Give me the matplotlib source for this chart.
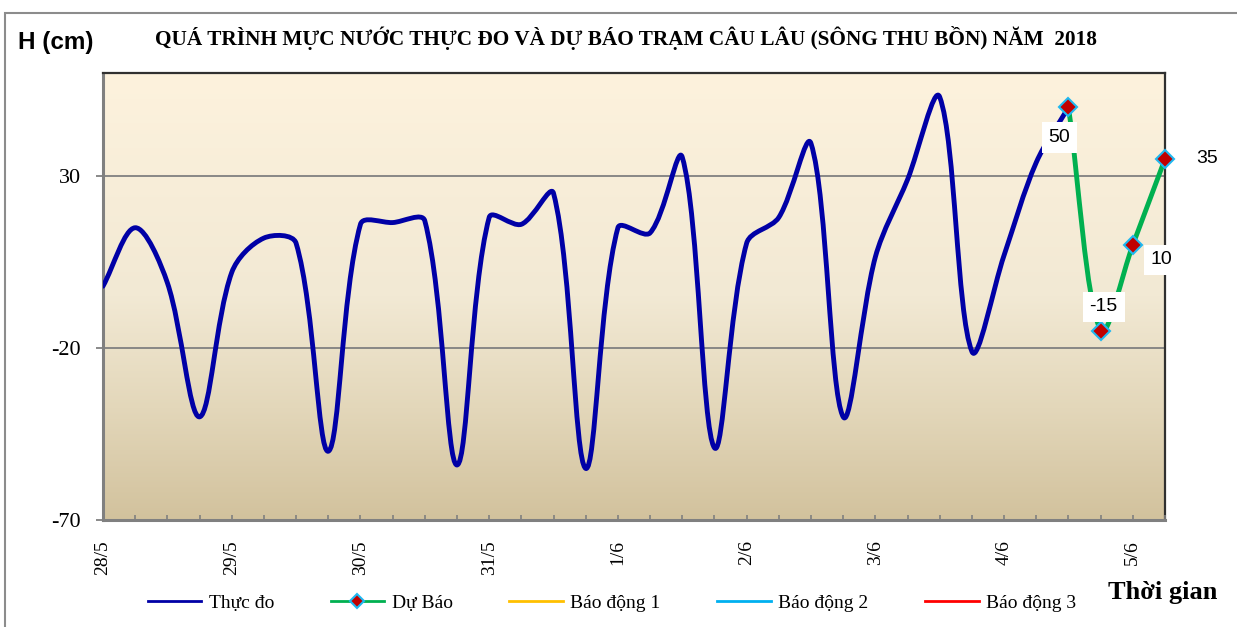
import numpy as np
import matplotlib
matplotlib.use('Agg')
import matplotlib.pyplot as plt
from matplotlib.path import Path
from matplotlib.patches import PathPatch, Rectangle
from matplotlib.lines import Line2D
from matplotlib.colors import LinearSegmentedColormap

# ---------------- data ----------------
day_labels = ['28/5', '29/5', '30/5', '31/5', '1/6', '2/6', '3/6', '4/6', '5/6']
steps_per_day = 4  # 6-hourly values
observed = [-2, 15, -1, -40, 2, 12, 10.5, -50, 16, 16.5, 17, -54,
            18, 16, 25, -55, 15, 13.5, 35.5, -49, 10.5, 18, 39.5, -40,
            6.5, 29, 53, -21, 7, 34, 50]
forecast_start = 30
forecast = [50, -15, 10, 35]
series_names = ['Thực đo', 'Dự Báo']
alarm_names = ['Báo động 1', 'Báo động 2', 'Báo động 3']
y_ticks = [-70, -20, 30]

SERIF = ['Liberation Serif', 'DejaVu Serif']
SANS = ['Liberation Sans', 'DejaVu Sans']

W, H = 1237, 627
fig = plt.figure(figsize=(W / 100, H / 100), dpi=100)
ax = fig.add_axes([103 / W, 1 - 520 / H, (1165 - 103) / W, (520 - 73) / H])

n_total = forecast_start + len(forecast) - 1
ax.set_xlim(0, n_total)
ax.set_ylim(-70, 60)


def smooth_path(x, y):
    """Excel-like smoothed line: cubic Bezier through the points, built in
    screen space with chord-length weighted tangents."""
    trans = ax.transData
    P = trans.transform(np.column_stack([np.asarray(x, float), np.asarray(y, float)]))
    n = len(P)
    verts = [P[0]]
    codes = [Path.MOVETO]
    for i in range(n - 1):
        p0 = P[i - 1] if i > 0 else P[i]
        p1, p2 = P[i], P[i + 1]
        p3 = P[i + 2] if i + 2 < n else P[i + 1]
        d01 = np.linalg.norm(p1 - p0)
        d12 = np.linalg.norm(p2 - p1)
        d23 = np.linalg.norm(p3 - p2)
        w1 = d12 / (d01 + d12) if d01 + d12 > 0 else 0.5
        w2 = d12 / (d12 + d23) if d12 + d23 > 0 else 0.5
        c1 = p1 + (p2 - p0) * w1 / 3.0
        c2 = p2 - (p3 - p1) * w2 / 3.0
        verts += [c1, c2, p2]
        codes += [Path.CURVE4] * 3
    verts = trans.inverted().transform(np.array(verts))
    return Path(verts, codes)


# gradient background
cmap = LinearSegmentedColormap.from_list(
    'parch', [(0.0, '#D2C29D'), (0.25, '#E3D7BA'), (0.5, '#F2E9D4'), (1.0, '#FDF2DD')])
grad = np.linspace(0, 1, 256).reshape(-1, 1)
ax.imshow(grad, extent=[0, 1, 0, 1], transform=ax.transAxes, origin='lower',
          aspect='auto', cmap=cmap, zorder=0)
ax.set_xlim(0, n_total)
ax.set_ylim(-70, 60)

# grid
for v in y_ticks[1:]:
    ax.axhline(v, color='#808080', lw=1.3, zorder=1)

# observed series
xo = np.arange(len(observed))
ax.add_patch(PathPatch(smooth_path(xo, observed), fill=False, edgecolor='#0000A6',
                       lw=3.5, capstyle='round', joinstyle='round', zorder=3))

# forecast series
xf = np.arange(forecast_start, forecast_start + len(forecast))
ax.add_patch(PathPatch(smooth_path(xf, forecast), fill=False, edgecolor='#00B050',
                       lw=3.5, capstyle='round', joinstyle='round', zorder=4))
ax.plot(xf, forecast, ls='none', marker='D', ms=9, mfc='#C00000', mec='#1FB8F0',
        mew=1.5, zorder=5, clip_on=False)

# data labels
label_offsets = [(-9, -30, True), (3, 24, True), (29, -15, True), (42, 0, False)]
for x, v, (dx, dy, box) in zip(xf, forecast, label_offsets):
    ax.annotate(f'{v:g}', (x, v), xytext=(dx, dy), textcoords='offset pixels',
                ha='center', va='center', fontsize=14, family=SANS, zorder=6,
                annotation_clip=False,
                bbox=dict(boxstyle='square,pad=0.35', fc='white', ec='none') if box else None)

# axes styling
ax.set_yticks(y_ticks)
ax.set_yticklabels([str(v) for v in y_ticks], family=SERIF, fontsize=16)
ax.tick_params(axis='y', direction='out', length=5, width=1.3, color='#808080', pad=11)
ax.set_xticks(np.arange(0, n_total + 1, steps_per_day))
ax.set_xticklabels(day_labels, rotation=90, family=SERIF, fontsize=14)
ax.set_xticks(np.arange(0, n_total + 1), minor=True)
ax.tick_params(axis='x', which='both', direction='in', length=3.6, width=1.2,
               color='#808080', pad=14.5)
for s in ['left', 'bottom']:
    ax.spines[s].set_color('#808080')
    ax.spines[s].set_linewidth(2.2)
for s in ['top', 'right']:
    ax.spines[s].set_color('#303030')
    ax.spines[s].set_linewidth(1.6)
ax.set_axisbelow(False)

# outer frame
fig.add_artist(Rectangle((5 / W, -0.02), 1.05, 1 - 13 / H + 0.02, transform=fig.transFigure,
                         fill=False, ec='#8C8C8C', lw=1.5))

# texts
fig.text(18 / W, 1 - 42 / H, 'H (cm)', family=SANS, fontweight='bold', fontsize=17.5,
         ha='left', va='center')
fig.text(626 / W, 1 - 38 / H,
         'QUÁ TRÌNH MỰC NƯỚC THỰC ĐO VÀ DỰ BÁO TRẠM CÂU LÂU (SÔNG THU BỒN) NĂM  2018',
         family=SERIF, fontweight='bold', fontsize=15.3, ha='center', va='center')
fig.text(1163 / W, 1 - 593 / H, 'Thời gian', family=SERIF, fontweight='bold',
         fontsize=19, ha='center', va='center')

# legend
handles = [
    Line2D([], [], color='#0000A6', lw=2),
    Line2D([], [], color='#00B050', lw=2, marker='D', ms=7, mfc='#C00000', mec='#1FB8F0',
           mew=1.5),
    Line2D([], [], color='#FFC000', lw=2),
    Line2D([], [], color='#00B0F0', lw=2),
    Line2D([], [], color='#FF0000', lw=2),
]
fig.legend(handles, series_names + alarm_names, loc='center', ncol=5,
           bbox_to_anchor=(612 / W, 1 - 603 / H), frameon=False,
           prop={'family': SERIF, 'size': 14}, handlelength=2.75, columnspacing=2.9,
           handletextpad=0.4, borderpad=0, borderaxespad=0)

fig.savefig('out.png', dpi=100)
